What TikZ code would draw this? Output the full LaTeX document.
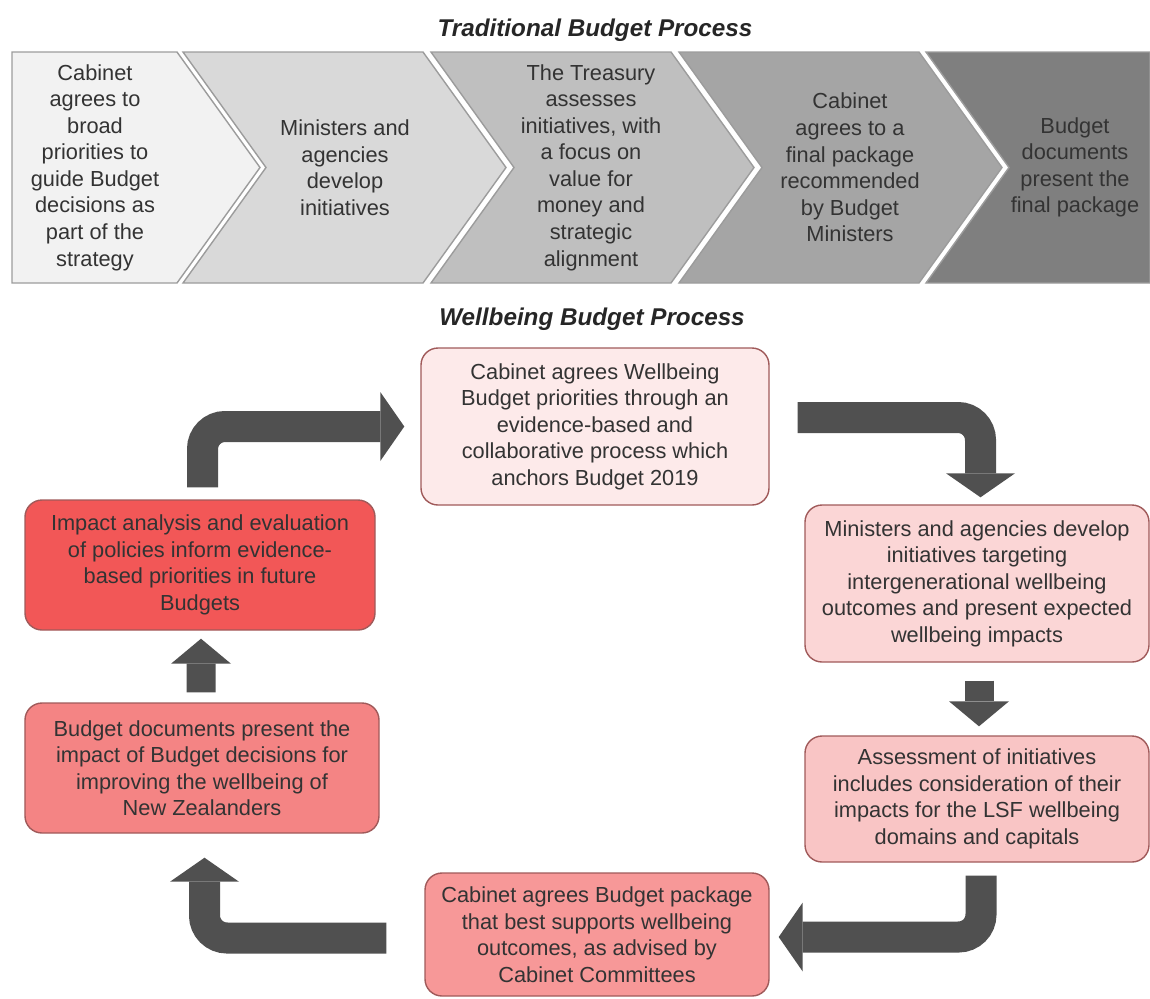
\documentclass[tikz,border=0pt]{standalone}
\usepackage{fontspec}
\setmainfont{Liberation Sans}
\usetikzlibrary{arrows.meta}
\definecolor{chevA}{HTML}{F2F2F2}
\definecolor{chevB}{HTML}{D9D9D9}
\definecolor{chevC}{HTML}{BFBFBF}
\definecolor{chevD}{HTML}{A5A5A5}
\definecolor{chevE}{HTML}{7F7F7F}
\definecolor{chevline}{HTML}{9C9C9C}
\definecolor{pinkA}{HTML}{FDEAEA}
\definecolor{pinkB}{HTML}{FBD6D6}
\definecolor{pinkC}{HTML}{F9C5C5}
\definecolor{redA}{HTML}{F79898}
\definecolor{redB}{HTML}{F48484}
\definecolor{redC}{HTML}{F25757}
\definecolor{boxline}{HTML}{A05A5A}
\definecolor{textgray}{HTML}{333333}
\definecolor{titlegray}{HTML}{262626}
\definecolor{arrowgray}{HTML}{505050}
\def\chevron{-- ++(4.8,0) -- ++(1.66,-2.31) -- ++(-1.66,-2.31) -- ++(-4.8,0) -- ++(1.66,2.31) -- cycle}

\begin{document}
\begin{tikzpicture}[
    font=\fontsize{12.4}{15.1}\selectfont,
    title/.style={font=\fontsize{13.8}{16}\selectfont\bfseries\itshape, text=titlegray},
    chev/.style={draw=chevline, line width=0.8pt},
    chevtext/.style={align=center, text=textgray},
    stage/.style={draw=boxline, line width=0.8pt, rounded corners=0.34cm, align=center, text=textgray, minimum width=6.88cm},
    bentarrow/.style={draw=arrowgray, line width=0.62cm, rounded corners=0.45cm, -{Triangle[width=1.38cm,length=0.48cm,line width=0pt]}},
    hop/.style={draw=arrowgray, line width=0.58cm, -{Triangle[width=1.2cm,length=0.5cm,line width=0pt]}}
  ]
  \useasboundingbox (0,0) rectangle (23,-19.96);

  % traditional process
  \node[title] (oldtitle) at (11.9,-0.6) {Traditional Budget Process};
  \draw[chev, fill=chevA] (0.24,-1.04) -- (3.54,-1.04) -- ++(1.66,-2.31) -- ++(-1.66,-2.31) -- (0.24,-5.66) -- cycle;
  \draw[chev, fill=chevB] (3.66,-1.04) \chevron;
  \draw[chev, fill=chevC] (8.62,-1.04) \chevron;
  \draw[chev, fill=chevD] (13.58,-1.04) \chevron;
  \draw[chev, fill=chevE] (18.52,-1.04) -- (23,-1.04) -- (23,-5.66) -- (18.52,-5.66) -- ++(1.66,2.31) -- cycle;

  \node[chevtext] (guide) at (1.9,-3.35) {Cabinet\\agrees to\\broad\\priorities to\\guide Budget\\decisions as\\part of the\\strategy};
  \node[chevtext] (develop) at (6.9,-3.35) {Ministers and\\agencies\\develop\\initiatives};
  \node[chevtext] (treasury) at (11.82,-3.35) {The Treasury\\assesses\\initiatives, with\\a focus on\\value for\\money and\\strategic\\alignment};
  \node[chevtext] (final) at (17.0,-3.35) {Cabinet\\agrees to a\\final package\\recommended\\by Budget\\Ministers};
  \node[chevtext] (present) at (21.5,-3.35) {Budget\\documents\\present the\\final package};

  % wellbeing process
  \node[title] (newtitle) at (11.84,-6.38) {Wellbeing Budget Process};
  \node[stage, fill=pinkA, minimum width=6.96cm, minimum height=3.14cm] (prio) at (11.9,-8.53) {Cabinet agrees Wellbeing\\Budget priorities through an\\evidence-based and\\collaborative process which\\anchors Budget 2019};
  \node[stage, fill=pinkB, minimum height=3.14cm] (dev) at (19.54,-11.67) {Ministers and agencies develop\\initiatives targeting\\intergenerational wellbeing\\outcomes and present expected\\wellbeing impacts};
  \node[stage, fill=pinkC, minimum height=2.52cm] (assess) at (19.54,-15.98) {Assessment of initiatives\\includes consideration of their\\impacts for the LSF wellbeing\\domains and capitals};
  \node[stage, fill=redA, minimum height=2.46cm] (pack) at (11.94,-18.69) {Cabinet agrees Budget package\\that best supports wellbeing\\outcomes, as advised by\\Cabinet Committees};
  \node[stage, fill=redB, minimum width=7.08cm, minimum height=2.6cm] (docs) at (4.04,-15.36) {Budget documents present the\\impact of Budget decisions for\\improving the wellbeing of\\New Zealanders};
  \node[stage, fill=redC, minimum width=7cm, minimum height=2.6cm] (impact) at (4.0,-11.3) {Impact analysis and evaluation\\of policies inform evidence-\\based priorities in future\\Budgets};

  \draw[bentarrow] ([xshift=0.05cm,yshift=0.24cm]impact.north) |- ([xshift=-0.32cm]prio.west);
  \draw[bentarrow] ([xshift=0.56cm,yshift=0.18cm]prio.east) -| ([xshift=0.07cm,yshift=0.14cm]dev.north);
  \draw[hop] ([xshift=0.04cm,yshift=-0.36cm]dev.south) -- ([xshift=0.04cm,yshift=0.18cm]assess.north);
  \draw[bentarrow] ([xshift=0.08cm,yshift=-0.26cm]assess.south) |- ([xshift=0.18cm,yshift=-0.05cm]pack.east);
  \draw[bentarrow] ([xshift=-0.76cm,yshift=-0.07cm]pack.west) -| ([xshift=0.05cm,yshift=-0.48cm]docs.south);
  \draw[hop] ([xshift=-0.02cm,yshift=0.2cm]docs.north) -- ([xshift=0.02cm,yshift=-0.16cm]impact.south);
\end{tikzpicture}
\end{document}
